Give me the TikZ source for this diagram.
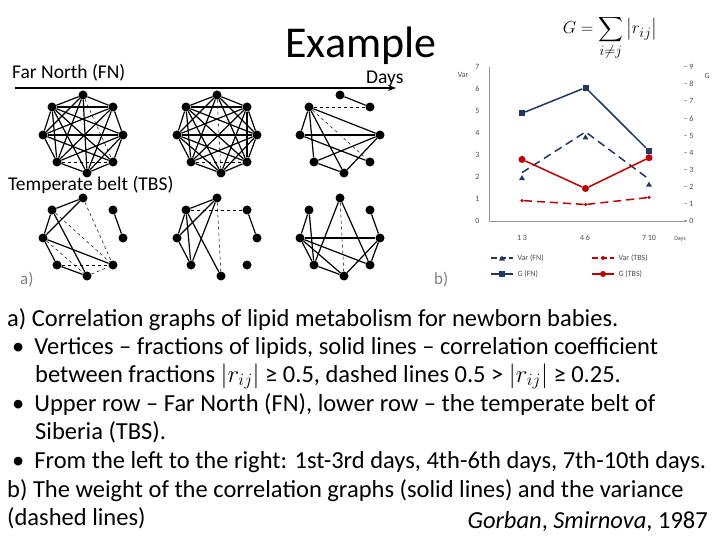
\documentclass[tikz,border=0pt]{standalone}
\usepackage{amsmath}
\usepackage{fontspec}
\setmainfont{Carlito}
\usetikzlibrary{arrows.meta}
\definecolor{navy}{HTML}{1F3864}
\definecolor{dred}{HTML}{C00000}
\tikzset{
 vtx/.style={circle,fill=black,inner sep=0pt,minimum size=9pt},
 sedge/.style={line width=1.2pt},
 dedge/.style={line width=0.5pt,dashed},
 body/.style={anchor=base west,font=\fontsize{24.5}{28}\selectfont,inner sep=0pt},
 ax/.style={font=\fontsize{8}{9}\selectfont,text=black!70},
 pt/.style={inner sep=0pt,minimum size=5pt},
 big/.style={anchor=base west,font=\fontsize{19.5}{22}\selectfont},
}
\newcommand\drawgraph[5]{%
 \begin{scope}[shift={(#2,#3)}]
  \foreach \i/\x/\y in {1/0/-39,2/-31/-27,3/30/-27,4/-40/1,5/40/1,6/-26/28,7/30/28,8/4/39}
   \node[vtx] (#1-\i) at (\x,\y) {};
 \end{scope}
 \foreach \a/\b in {#4} \draw[sedge] (#1-\a) -- (#1-\b);
 \foreach \a/\b in {#5} \draw[dedge] (#1-\a) -- (#1-\b);
}
\begin{document}
\begin{tikzpicture}[x=1pt,y=-1pt]
\useasboundingbox[fill=white] (0,0) rectangle (720,540);
% titles
\node[anchor=base,font=\fontsize{44}{48}\selectfont,inner sep=0pt] (ttl) at (361,58) {Example};
\node[big,inner sep=0pt] (fn) at (12,79) {Far North (FN)};
\node[big,inner sep=0pt] (days) at (366,84) {Days};
\coordinate (as) at (15,88); \coordinate (ae) at (396,88);
\draw[line width=1.3pt,-{Stealth[length=8pt]}] (as) -- (ae);
\node[big,inner sep=0pt] (tbs) at (8,191) {Temperate belt (TBS)};
\node[anchor=base west,font=\fontsize{17}{18}\selectfont,text=black!50,inner sep=0pt] (la) at (20,284) {a)};
\node[anchor=base west,font=\fontsize{17}{18}\selectfont,text=black!50,inner sep=0pt] (lb) at (434,284) {b)};
% graphs
\drawgraph{ga}{83}{134}{1/2,1/3,1/4,1/6,1/8,2/3,2/4,2/5,2/7,2/8,3/4,3/5,3/6,3/8,4/5,4/6,4/7,5/6,5/7,5/8,6/8,7/8,2/6}{1/7,6/7}
\drawgraph{gb}{217}{134}{1/2,1/3,1/4,1/5,1/6,1/7,2/3,2/4,2/5,2/6,2/7,2/8,3/4,3/5,3/6,3/7,3/8,4/5,4/6,4/7,4/8,5/6,5/7,5/8,6/8,7/8}{1/8,6/7}
\drawgraph{gc}{340}{134}{1/3,2/4,2/5,2/6,2/8,4/5,4/7,6/5,6/8,8/5}{2/7,2/3}
\drawgraph{gd}{83}{237}{1/2,2/4,1/4,2/8,4/6,4/7,3/5,6/8}{1/7,2/7,6/7,8/7,4/8}
\drawgraph{ge}{217}{237}{1/2,2/4,2/6,4/6,1/6,2/8,1/4,3/5}{1/8,2/3}
\drawgraph{gf}{340}{237}{2/4,2/6,1/6,1/7,4/5,4/7,4/8,4/6,6/8,5/7,5/8,3/5}{1/8}
% formula
\node[font=\fontsize{19}{22}\selectfont,inner sep=0pt] (form) at (610,38) {$\displaystyle G=\sum_{i\neq j}\left|r_{ij}\right|$};
% chart
\coordinate (o) at (489,221); \coordinate (yt) at (489,67); \coordinate (xe) at (687,221);
\draw[black!40] (yt) -- (o) -- (xe);
\foreach \v in {0,...,7} \node[ax,anchor=east] (vl\v) at (483,221-22*\v) {\v};
\foreach \g in {0,...,9} \node[ax,anchor=west] (gl\g) at (680,221-17.1*\g) {-- \g};
\node[ax,anchor=east] (varl) at (472,75) {Var};
\node[ax,anchor=west] (gll) at (701,76) {G};
\node[ax] (d1) at (522,238) {1 3};
\node[ax] (d2) at (585,238) {4 6};
\node[ax] (d3) at (649,238) {7 10};
\node[ax,font=\fontsize{6}{7}\selectfont] (dl) at (680,239) {Days};
% series
\foreach \n/\v in {1/2.2,2/4.05,3/1.9} \node[pt] (vf\n) at ({522+63.5*(\n-1)},{221-22*\v}) {};
\foreach \n/\v in {1/0.93,2/0.75,3/1.07} \node[pt,circle,fill=dred,minimum size=3.5pt] (vt\n) at ({522+63.5*(\n-1)},{221-22*\v}) {};
\foreach \n/\v in {1/6.3,2/7.8,3/4.1} \node[pt,fill=navy,minimum size=6pt] (gf\n) at ({522+63.5*(\n-1)},{221-17.1*\v}) {};
\foreach \n/\v in {1/3.6,2/1.9,3/3.7} \node[pt,circle,fill=dred,minimum size=7pt] (gt\n) at ({522+63.5*(\n-1)},{221-17.1*\v}) {};
\foreach \n in {1,2,3} \fill[navy] ([yshift=-2.5pt]vf\n.center) -- ++(-3,5) -- ++(6,0) -- cycle;
\draw[navy,line width=1.5pt,dash pattern=on 8pt off 5pt] (vf1.center) -- (vf2.center) -- (vf3.center);
\draw[dred,line width=1.5pt,dash pattern=on 8pt off 5pt] (vt1) -- (vt2) -- (vt3);
\draw[navy,line width=1.5pt] (gf1) -- (gf2) -- (gf3);
\draw[dred,line width=1.5pt] (gt1) -- (gt2) -- (gt3);
% legend
\coordinate (l1a) at (491,258); \coordinate (l1b) at (513,258);
\draw[navy,line width=1.5pt,dash pattern=on 6pt off 3pt] (l1a) -- (l1b);
\fill[navy] (502,255.5) -- ++(-3,5) -- ++(6,0) -- cycle;
\node[ax,anchor=west] (lt1) at (514,258) {Var (FN)};
\coordinate (l2a) at (592,258); \coordinate (l2b) at (614,258);
\draw[dred,line width=1.5pt,dash pattern=on 6pt off 3pt] (l2a) -- (l2b);
\fill[dred] (603,258) circle (2pt);
\node[ax,anchor=west] (lt2) at (615,258) {Var (TBS)};
\coordinate (l3a) at (491,274); \coordinate (l3b) at (513,274);
\draw[navy,line width=1.5pt] (l3a) -- (l3b); \fill[navy] (499,271) rectangle (505,277);
\node[ax,anchor=west] (lt3) at (514,274) {G (FN)};
\coordinate (l4a) at (592,274); \coordinate (l4b) at (614,274);
\draw[dred,line width=1.5pt] (l4a) -- (l4b); \fill[dred] (603,274) circle (3pt);
\node[ax,anchor=west] (lt4) at (615,274) {G (TBS)};
% body text
\node[body] (t1) at (7,326) {a) Correlation graphs of lipid metabolism for newborn babies.};
\node[body] (t2) at (12,354) {•\hspace{10pt}Vertices -- fractions of lipids, solid lines -- correlation coefficient};
\node[body] (t3) at (35,382) {between fractions $|r_{ij}|$ ≥ 0.5, dashed lines 0.5 > $|r_{ij}|$ ≥ 0.25.};
\node[body] (t4) at (12,411) {•\hspace{10pt}Upper row -- Far North (FN), lower row -- the temperate belt of};
\node[body] (t5) at (35,439) {Siberia (TBS).};
\node[body] (t6) at (12,468) {•\hspace{10pt}From the left to the right: 1st-3rd days, 4th-6th days, 7th-10th days.};
\node[body] (t7) at (7,497) {b) The weight of the correlation graphs (solid lines) and the variance};
\node[body] (t8) at (7,525) {(dashed lines)};
\node[body,anchor=base east] (t9) at (708,528) {\textit{Gorban}, \textit{Smirnova}, 1987};
\end{tikzpicture}
\end{document}
